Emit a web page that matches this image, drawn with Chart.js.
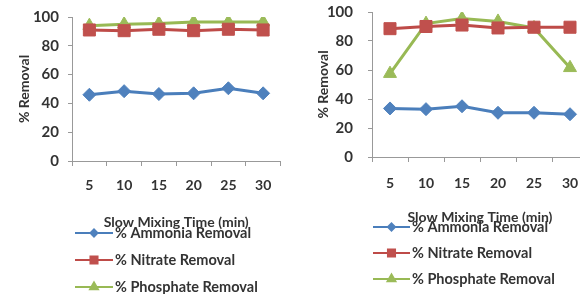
<!DOCTYPE html>
<html>
<head>
<meta charset="utf-8">
<script src="https://cdn.jsdelivr.net/npm/chart.js"></script>
<style>
  html, body { margin: 0; padding: 0; background: #fff; overflow: hidden; }
  #wrap { position: relative; width: 580px; height: 294px; overflow: hidden; }
  #left { position: absolute; left: 0; top: 0; }
  #right { position: absolute; left: 290px; top: 0; }
</style>
</head>
<body>
<div id="wrap">
  <canvas id="left" width="290" height="294"></canvas>
  <canvas id="right" width="310" height="294"></canvas>
</div>
<script>
// data
var mixingTimes = ['5', '10', '15', '20', '25', '30'];
var seriesNames = ['% Ammonia Removal', '% Nitrate Removal', '% Phosphate Removal'];

var ammoniaLeft = [46, 48.5, 46.5, 47, 50.5, 47];
var nitrateLeft = [91, 90.5, 91.5, 90.5, 91.5, 91];
var phosphateLeft = [94, 95, 95.5, 96.5, 96.5, 96.5];

var ammoniaRight = [33.5, 33, 35, 30.5, 30.5, 29.5];
var nitrateRight = [88.5, 90, 91, 89, 89.5, 89.5];
var phosphateRight = [57.5, 92, 95.5, 93.5, 89, 61.5];

var yMin = 0, yMax = 100, yStep = 20;

var lineColors = ['#4a7ebb', '#be4b48', '#98b954'];
var markerColors = ['#4f81bd', '#c0504d', '#9bbb59'];
var markerStyles = ['rectRot', 'rect', 'triangle'];
var markerSizes = [6.5, 8.5, 7.5];
var legendSizes = [3.5, 5, 4.5];

var textColor = '#333';
var axisColor = '#999';

// excel-like legend: short line with the marker in the middle, one row per series
var lineLegend = {
    id: 'lineLegend',
    afterDraw: function(chart, args, opts) {
        var ctx = chart.ctx;
        ctx.save();
        chart.data.datasets.forEach(function(ds, i) {
            var y = opts.y + i * opts.gap;
            ctx.strokeStyle = lineColors[i];
            ctx.lineWidth = 2;
            ctx.beginPath();
            ctx.moveTo(opts.x, y);
            ctx.lineTo(opts.x + opts.len, y);
            ctx.stroke();
            ctx.fillStyle = markerColors[i];
            ctx.strokeStyle = markerColors[i];
            Chart.helpers.drawPoint(ctx, {
                pointStyle: markerStyles[i],
                radius: legendSizes[i],
                rotation: 0,
                borderWidth: 1
            }, opts.x + opts.len / 2, y);
            ctx.fillStyle = textColor;
            ctx.font = 'bold 14.5px Lato';
            ctx.textBaseline = 'middle';
            ctx.textAlign = 'left';
            ctx.fillText(ds.label, opts.x + opts.len + 2, y);
        });
        ctx.restore();
    }
};

function makeDatasets(values) {
    return values.map(function(v, i) {
        return {
            label: seriesNames[i],
            data: v,
            borderColor: lineColors[i],
            backgroundColor: markerColors[i],
            borderWidth: 3,
            pointStyle: markerStyles[i],
            pointRadius: markerSizes[i],
            pointBackgroundColor: markerColors[i],
            pointBorderColor: markerColors[i],
            pointBorderWidth: 1,
            tension: 0
        };
    });
}

function makeChart(id, values, lay) {
    var ctx = document.getElementById(id).getContext('2d');
    return new Chart(ctx, {
        type: 'line',
        data: {
            labels: mixingTimes,
            datasets: makeDatasets(values)
        },
        options: {
            responsive: false,
            animation: false,
            events: [],
            layout: { padding: { top: lay.top, right: lay.right, bottom: 0, left: 0 } },
            plugins: {
                legend: { display: false },
                tooltip: { enabled: false },
                lineLegend: lay.legend
            },
            scales: {
                x: {
                    offset: true,
                    grid: { offset: true, drawOnChartArea: false, tickLength: 5, color: axisColor },
                    border: { color: axisColor },
                    ticks: { color: textColor, padding: lay.xTickPad, font: { family: 'Lato', size: 14, weight: 'bold' } },
                    title: {
                        display: true,
                        text: 'Slow Mixing Time (min)',
                        color: textColor,
                        font: { family: 'Lato', size: 14, weight: 'bold' },
                        padding: { top: 0, bottom: lay.xTitlePad }
                    },
                    afterFit: function(s) { s.height = lay.xHeight; }
                },
                y: {
                    min: yMin,
                    max: yMax,
                    ticks: { stepSize: yStep, color: textColor, padding: lay.yTickPad, font: { family: 'Lato', size: 15, weight: 'bold' } },
                    grid: { drawOnChartArea: false, tickLength: 4, color: axisColor },
                    border: { color: axisColor },
                    title: {
                        display: true,
                        text: '% Removal',
                        color: textColor,
                        font: { family: 'Lato', size: 14, weight: 'bold' },
                        padding: { top: lay.yTitlePad, bottom: 0 }
                    },
                    afterFit: function(s) {
                        s.width = lay.yWidth;
                        // tick padding would otherwise push the plot top down
                        s.paddingTop = 0;
                        s.paddingBottom = 0;
                    }
                }
            }
        },
        plugins: [lineLegend]
    });
}

makeChart('left', [ammoniaLeft, nitrateLeft, phosphateLeft], {
    top: 17, right: 5, xHeight: 133, yWidth: 72,
    xTickPad: 11, xTitlePad: 63, yTickPad: 9, yTitlePad: 16,
    legend: { x: 75, y: 233, gap: 27, len: 38 }
});

makeChart('right', [ammoniaRight, nitrateRight, phosphateRight], {
    top: 12, right: 12, xHeight: 137, yWidth: 82,
    xTickPad: 13, xTitlePad: 68, yTickPad: 15, yTitlePad: 25,
    legend: { x: 83, y: 227, gap: 26, len: 37 }
});
</script>
</body>
</html>
